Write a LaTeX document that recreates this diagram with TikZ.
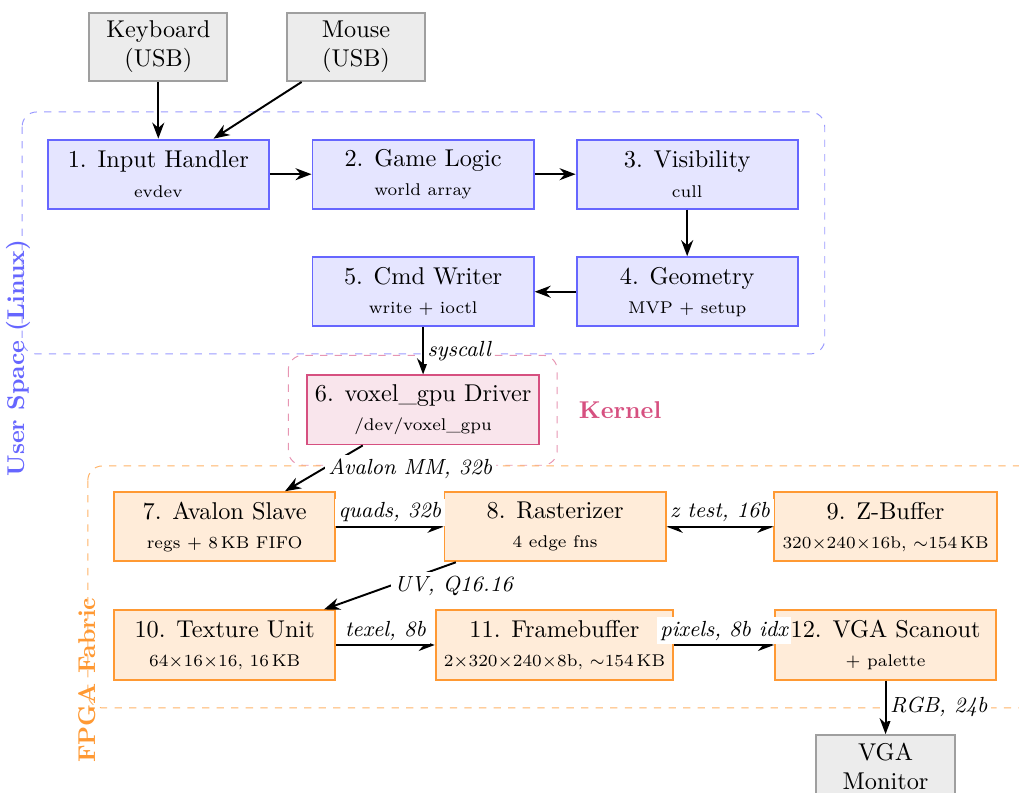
\documentclass[tikz,border=0pt]{standalone}
\usepackage{amsmath}
\usepackage{xcolor}
\usetikzlibrary{positioning}
\usetikzlibrary{arrows.meta}

\definecolor{kerncol}{RGB}{214,80,128}

\tikzset{
    usrbox/.style={draw=blue!60, fill=blue!10, thick, minimum width=3.2cm, minimum height=1cm, align=center},
    kernbox/.style={draw=kerncol, fill=kerncol!15, thick, minimum width=3.2cm, minimum height=1cm, align=center},
    fpgabox/.style={draw=orange!80, fill=orange!15, thick, minimum width=3.2cm, minimum height=1cm, align=center},
    extbox/.style={draw=gray!75, fill=gray!15, thick, minimum width=2cm, align=center},
    layer/.style={dashed, rounded corners=6pt},
    flow/.style={thick, -{Stealth}},
    lbl/.style={font=\small\itshape, fill=white, inner sep=1.5pt}
}

\begin{document}
\begin{tikzpicture}
\useasboundingbox (0,0) rectangle (14.74,-11.47);

% Layers
\draw[layer, blue!40] (0.32,-1.62) rectangle (11.93,-5.12);
\draw[layer, kerncol!60] (4.17,-5.14) rectangle (8.06,-6.73);
\draw[layer, orange!60] (1.27,-6.74) rectangle (15.3,-10.24);

\node[rotate=90, text=blue!60, font=\bfseries] (lusr) at (0.26,-5.18) {User Space (Linux)};
\node[text=kerncol, font=\bfseries] (lkern) at (8.97,-5.93) {Kernel};
\node[rotate=90, text=orange!80, font=\bfseries] (lfpga) at (1.26,-9.84) {FPGA Fabric};

% Peripherals
\node[extbox] (kbd) at (2.29,-0.68) {Keyboard\\(USB)};
\node[extbox] (mouse) at (5.15,-0.68) {Mouse\\(USB)};

% User space
\node[usrbox] (input) at (2.29,-2.52) {1. Input Handler\\{\scriptsize evdev}};
\node[usrbox] (logic) at (6.12,-2.52) {2. Game Logic\\{\scriptsize world array}};
\node[usrbox] (vis) at (9.94,-2.52) {3. Visibility\\{\scriptsize cull}};
\node[usrbox] (geom) at (9.94,-4.22) {4. Geometry\\{\scriptsize MVP + setup}};
\node[usrbox] (cmd) at (6.12,-4.22) {5. Cmd Writer\\{\scriptsize write + ioctl}};

% Kernel
\node[kernbox] (drv) at (6.12,-5.93) {6. voxel\_gpu Driver\\{\scriptsize /dev/voxel\_gpu}};

% FPGA
\node[fpgabox] (slave) at (3.25,-7.62) {7. Avalon Slave\\{\scriptsize regs + 8\,KB FIFO}};
\node[fpgabox] (rast) at (8.03,-7.62) {8. Rasterizer\\{\scriptsize 4 edge fns}};
\node[fpgabox] (zbuf) at (12.81,-7.62) {9. Z-Buffer\\{\scriptsize $320{\times}240{\times}16$b, ${\sim}154$\,KB}};
\node[fpgabox] (tex) at (3.25,-9.33) {10. Texture Unit\\{\scriptsize $64{\times}16{\times}16$, 16\,KB}};
\node[fpgabox] (fb) at (8.02,-9.33) {11. Framebuffer\\{\scriptsize $2{\times}320{\times}240{\times}8$b, ${\sim}154$\,KB}};
\node[fpgabox] (vga) at (12.81,-9.33) {12. VGA Scanout\\{\scriptsize + palette}};

\node[extbox] (mon) at (12.81,-11.09) {VGA\\Monitor};

% Connections
\draw[flow] (kbd) -- (input);
\draw[flow] (mouse) -- (input);
\draw[flow] (input) -- (logic);
\draw[flow] (logic) -- (vis);
\draw[flow] (vis) -- (geom);
\draw[flow] (geom) -- (cmd);
\draw[flow] (cmd) -- node[lbl, right] {syscall} (drv);
\draw[flow] (drv) -- node[lbl, right] {Avalon MM, 32b} (slave);
\draw[flow] (slave) -- node[lbl, above] {quads, 32b} (rast);
\draw[thick, {Stealth}-{Stealth}] (rast) -- node[lbl, above] {z test, 16b} (zbuf);
\draw[flow] (rast) -- node[lbl, right] {UV, Q16.16} (tex);
\draw[flow] (tex) -- node[lbl, above] {texel, 8b} (fb);
\draw[flow] (fb) -- node[lbl, above] {pixels, 8b idx} (vga);
\draw[flow] (vga) -- node[lbl, right] {RGB, 24b} (mon);
\end{tikzpicture}
\end{document}
